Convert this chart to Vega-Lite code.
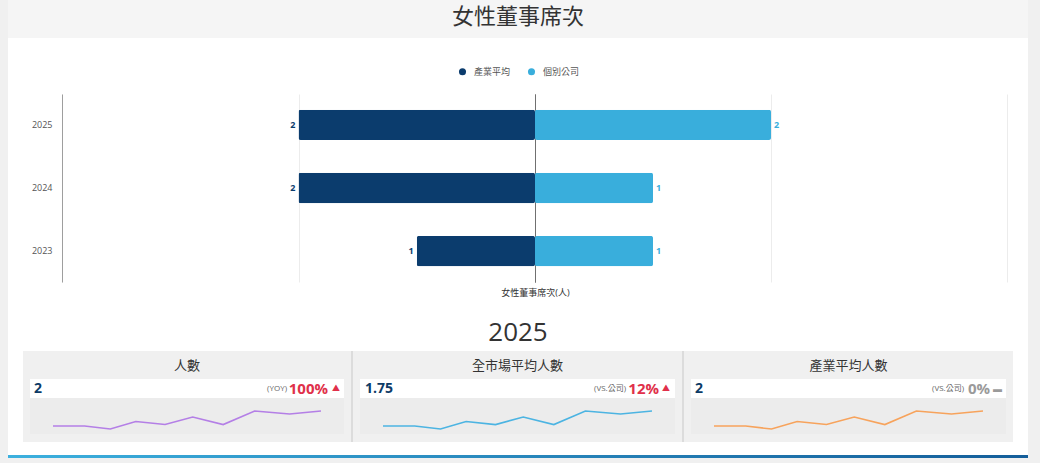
{
  "$schema": "https://vega.github.io/schema/vega-lite/v6.json",
  "background": "#f0f0f0",
  "padding": {"top": 0, "left": 8, "right": 12, "bottom": 5},
  "spacing": 0,
  "resolve": {"scale": {"color": "independent"}},
  "config": {
    "font": "Open Sans, Noto Sans CJK TC",
    "view": {"stroke": null},
    "concat": {"spacing": 0}
  },
  "datasets": {
    "title": [{"title": "女性董事席次"}],
    "bars": [
      {"year": "2025", "group": "產業平均", "count": 2},
      {"year": "2025", "group": "個別公司", "count": 2},
      {"year": "2024", "group": "產業平均", "count": 2},
      {"year": "2024", "group": "個別公司", "count": 1},
      {"year": "2023", "group": "產業平均", "count": 1},
      {"year": "2023", "group": "個別公司", "count": 1}
    ],
    "summary": [{"year": "2025"}],
    "cards": [
      {"card": "人數", "value": "2", "cmp": "(YOY)", "pct": 1.0, "trend": "up", "arrow": "▲"},
      {"card": "全市場平均人數", "value": "1.75", "cmp": "(VS.公司)", "pct": 0.12, "trend": "up", "arrow": "▲"},
      {"card": "產業平均人數", "value": "2", "cmp": "(VS.公司)", "pct": 0, "trend": "flat", "arrow": "▬"}
    ],
    "trend": [
      {"card": "人數", "date": "2016-01-01", "n": 1.0},
      {"card": "人數", "date": "2017-01-22", "n": 1.0},
      {"card": "人數", "date": "2017-12-04", "n": 0.8},
      {"card": "人數", "date": "2018-10-13", "n": 1.3},
      {"card": "人數", "date": "2019-10-07", "n": 1.1},
      {"card": "人數", "date": "2020-09-10", "n": 1.6},
      {"card": "人數", "date": "2021-09-19", "n": 1.1},
      {"card": "人數", "date": "2022-10-10", "n": 2.0},
      {"card": "人數", "date": "2023-12-13", "n": 1.8},
      {"card": "人數", "date": "2025-01-01", "n": 2.0},
      {"card": "全市場平均人數", "date": "2016-01-01", "n": 0.88},
      {"card": "全市場平均人數", "date": "2017-01-22", "n": 0.88},
      {"card": "全市場平均人數", "date": "2017-12-04", "n": 0.7},
      {"card": "全市場平均人數", "date": "2018-10-13", "n": 1.14},
      {"card": "全市場平均人數", "date": "2019-10-07", "n": 0.96},
      {"card": "全市場平均人數", "date": "2020-09-10", "n": 1.4},
      {"card": "全市場平均人數", "date": "2021-09-19", "n": 0.96},
      {"card": "全市場平均人數", "date": "2022-10-10", "n": 1.75},
      {"card": "全市場平均人數", "date": "2023-12-13", "n": 1.58},
      {"card": "全市場平均人數", "date": "2025-01-01", "n": 1.75},
      {"card": "產業平均人數", "date": "2016-01-01", "n": 1.0},
      {"card": "產業平均人數", "date": "2017-01-22", "n": 1.0},
      {"card": "產業平均人數", "date": "2017-12-04", "n": 0.8},
      {"card": "產業平均人數", "date": "2018-10-13", "n": 1.3},
      {"card": "產業平均人數", "date": "2019-10-07", "n": 1.1},
      {"card": "產業平均人數", "date": "2020-09-10", "n": 1.6},
      {"card": "產業平均人數", "date": "2021-09-19", "n": 1.1},
      {"card": "產業平均人數", "date": "2022-10-10", "n": 2.0},
      {"card": "產業平均人數", "date": "2023-12-13", "n": 1.8},
      {"card": "產業平均人數", "date": "2025-01-01", "n": 2.0}
    ],
    "blank": [{}]
  },
  "vconcat": [
    {
      "width": 1020,
      "height": 38,
      "view": {"fill": "#f5f5f5"},
      "data": {"name": "title"},
      "mark": {"type": "text", "fontSize": 22, "color": "#333333", "font": "Noto Sans CJK TC", "dy": -2},
      "encoding": {"text": {"field": "title"}}
    },
    {
      "width": 1020,
      "height": 262,
      "view": {"fill": "white"},
      "data": {"name": "bars"},
      "encoding": {
        "y": {
          "field": "year",
          "type": "ordinal",
          "sort": "descending",
          "scale": {"range": [56, 244], "paddingInner": 0.52, "paddingOuter": 0.25},
          "axis": {
            "title": null,
            "orient": "left",
            "offset": -54,
            "grid": false,
            "ticks": false,
            "tickSize": 0,
            "domainColor": "#9e9e9e",
            "labelPadding": 10,
            "labelFontSize": 9,
            "labelColor": "#555555"
          }
        },
        "color": {
          "field": "group",
          "type": "nominal",
          "scale": {"domain": ["產業平均", "個別公司"], "range": ["#0b3c6d", "#39aedc"]},
          "legend": {
            "title": null,
            "orient": "none",
            "direction": "horizontal",
            "legendX": 450,
            "legendY": 29,
            "padding": 0,
            "symbolType": "circle",
            "symbolSize": 50,
            "symbolStrokeWidth": 0,
            "labelFontSize": 9,
            "labelColor": "#555555",
            "labelOffset": 7,
            "columnPadding": 16
          }
        }
      },
      "layer": [
        {
          "transform": [{"filter": "datum.group === '產業平均'"}],
          "encoding": {
            "x": {
              "field": "count",
              "type": "quantitative",
              "scale": {"domain": [0, 4], "range": [527, 54], "nice": false},
              "axis": {
                "orient": "top",
                "values": [0, 2, 4],
                "grid": true,
                "gridColor": {"condition": {"test": "datum.value === 0", "value": "#707070"}, "value": "#ececec"},
                "domain": false,
                "ticks": false,
                "labels": false,
                "title": null
              }
            }
          },
          "layer": [
            {"mark": {"type": "bar", "cornerRadius": 2}},
            {
              "mark": {"type": "text", "align": "right", "dx": -3, "fontSize": 9, "fontWeight": "bold"},
              "encoding": {"text": {"field": "count", "type": "quantitative"}}
            }
          ]
        },
        {
          "transform": [{"filter": "datum.group === '個別公司'"}],
          "encoding": {
            "x": {
              "field": "count",
              "type": "quantitative",
              "scale": {"domain": [0, 4], "range": [527, 999], "nice": false},
              "axis": {
                "orient": "top",
                "values": [0, 2, 4],
                "grid": true,
                "gridColor": {"condition": {"test": "datum.value === 0", "value": "#707070"}, "value": "#ececec"},
                "domain": false,
                "ticks": false,
                "labels": false,
                "title": "女性董事席次(人)",
                "titleX": 527,
                "titleY": 254,
                "titleAlign": "center",
                "titleBaseline": "middle",
                "titleFontSize": 9,
                "titleFontWeight": "normal",
                "titleColor": "#333333"
              }
            }
          },
          "layer": [
            {"mark": {"type": "bar", "cornerRadius": 2}},
            {
              "mark": {"type": "text", "align": "left", "dx": 3, "fontSize": 9, "fontWeight": "bold"},
              "encoding": {"text": {"field": "count", "type": "quantitative"}}
            }
          ]
        }
      ],
      "resolve": {"scale": {"x": "independent"}, "axis": {"x": "independent"}}
    },
    {
      "width": 1020,
      "height": 51,
      "view": {"fill": "white"},
      "data": {"name": "summary"},
      "mark": {"type": "text", "fontSize": 26, "color": "#333333", "dy": 7},
      "encoding": {"text": {"field": "year"}}
    },
    {
      "hconcat": [
        {"width": 15, "height": 91, "data": {"name": "blank"}, "mark": {"type": "rect", "color": "white"}, "encoding": {}},
        {
          "vconcat": [
            {
              "width": 328, "height": 28,
              "data": {"name": "cards"},
              "transform": [{"filter": "datum.card === '人數'"}],
              "mark": {"type": "text", "fontSize": 13, "color": "#333333", "dy": 1},
              "encoding": {"text": {"field": "card"}}
            },
            {
              "width": 314, "height": 19,
              "view": {"fill": "white"},
              "data": {"name": "cards"},
              "transform": [{"filter": "datum.card === '人數'"}],
              "layer": [
                {"mark": {"type": "text", "x": 0, "align": "left", "dx": 4, "fontSize": 14, "fontWeight": "bold", "color": "#0d3b66"}, "encoding": {"text": {"field": "value"}}},
                {"mark": {"type": "text", "x": "width", "align": "right", "dx": -57, "fontSize": 8, "color": "#666666"}, "encoding": {"text": {"field": "cmp"}}},
                {
                  "mark": {"type": "text", "x": "width", "align": "right", "dx": -16, "fontSize": 15, "fontWeight": "bold"},
                  "encoding": {
                    "text": {"field": "pct", "type": "quantitative", "format": ".0%"},
                    "color": {"field": "trend", "type": "nominal", "scale": {"domain": ["up", "flat"], "range": ["#e0304a", "#9a9a9a"]}, "legend": null}
                  }
                },
                {
                  "mark": {"type": "text", "x": "width", "align": "right", "dx": -4, "fontSize": 8},
                  "encoding": {
                    "text": {"field": "arrow"},
                    "color": {"field": "trend", "type": "nominal", "scale": {"domain": ["up", "flat"], "range": ["#e0304a", "#9a9a9a"]}, "legend": null}
                  }
                }
              ]
            },
            {
              "width": 314, "height": 36,
              "view": {"fill": "#ececec"},
              "data": {"name": "trend"},
              "transform": [{"filter": "datum.card === '人數'"}],
              "mark": {"type": "line", "strokeWidth": 1.6, "color": "#b47fe6"},
              "encoding": {
                "x": {"field": "date", "type": "temporal", "scale": {"nice": false, "padding": 23}, "axis": null},
                "y": {"field": "n", "type": "quantitative", "scale": {"domain": [0.47, 2.87], "zero": false, "nice": false}, "axis": null}
              }
            }
          ],
          "center": true,
          "spacing": 0
        },
        {"width": 2, "height": 91, "data": {"name": "blank"}, "mark": {"type": "rect", "color": "#dcdcdc"}, "encoding": {}},
        {
          "vconcat": [
            {
              "width": 329, "height": 28,
              "data": {"name": "cards"},
              "transform": [{"filter": "datum.card === '全市場平均人數'"}],
              "mark": {"type": "text", "fontSize": 13, "color": "#333333", "dy": 1},
              "encoding": {"text": {"field": "card"}}
            },
            {
              "width": 315, "height": 19,
              "view": {"fill": "white"},
              "data": {"name": "cards"},
              "transform": [{"filter": "datum.card === '全市場平均人數'"}],
              "layer": [
                {"mark": {"type": "text", "x": 0, "align": "left", "dx": 5, "fontSize": 14, "fontWeight": "bold", "color": "#0d3b66"}, "encoding": {"text": {"field": "value"}}},
                {"mark": {"type": "text", "x": "width", "align": "right", "dx": -49, "fontSize": 8, "color": "#666666"}, "encoding": {"text": {"field": "cmp"}}},
                {
                  "mark": {"type": "text", "x": "width", "align": "right", "dx": -16, "fontSize": 15, "fontWeight": "bold"},
                  "encoding": {
                    "text": {"field": "pct", "type": "quantitative", "format": ".0%"},
                    "color": {"field": "trend", "type": "nominal", "scale": {"domain": ["up", "flat"], "range": ["#e0304a", "#9a9a9a"]}, "legend": null}
                  }
                },
                {
                  "mark": {"type": "text", "x": "width", "align": "right", "dx": -5, "fontSize": 8},
                  "encoding": {
                    "text": {"field": "arrow"},
                    "color": {"field": "trend", "type": "nominal", "scale": {"domain": ["up", "flat"], "range": ["#e0304a", "#9a9a9a"]}, "legend": null}
                  }
                }
              ]
            },
            {
              "width": 315, "height": 36,
              "view": {"fill": "#ececec"},
              "data": {"name": "trend"},
              "transform": [{"filter": "datum.card === '全市場平均人數'"}],
              "mark": {"type": "line", "strokeWidth": 1.6, "color": "#4cb4e2"},
              "encoding": {
                "x": {"field": "date", "type": "temporal", "scale": {"nice": false, "padding": 23}, "axis": null},
                "y": {"field": "n", "type": "quantitative", "scale": {"domain": [0.41, 2.51], "zero": false, "nice": false}, "axis": null}
              }
            }
          ],
          "center": true,
          "spacing": 0
        },
        {"width": 2, "height": 91, "data": {"name": "blank"}, "mark": {"type": "rect", "color": "#dcdcdc"}, "encoding": {}},
        {
          "vconcat": [
            {
              "width": 329, "height": 28,
              "data": {"name": "cards"},
              "transform": [{"filter": "datum.card === '產業平均人數'"}],
              "mark": {"type": "text", "fontSize": 13, "color": "#333333", "dy": 1},
              "encoding": {"text": {"field": "card"}}
            },
            {
              "width": 315, "height": 19,
              "view": {"fill": "white"},
              "data": {"name": "cards"},
              "transform": [{"filter": "datum.card === '產業平均人數'"}],
              "layer": [
                {"mark": {"type": "text", "x": 0, "align": "left", "dx": 4, "fontSize": 14, "fontWeight": "bold", "color": "#0d3b66"}, "encoding": {"text": {"field": "value"}}},
                {"mark": {"type": "text", "x": "width", "align": "right", "dx": -42, "fontSize": 8, "color": "#666666"}, "encoding": {"text": {"field": "cmp"}}},
                {
                  "mark": {"type": "text", "x": "width", "align": "right", "dx": -16, "fontSize": 15, "fontWeight": "bold"},
                  "encoding": {
                    "text": {"field": "pct", "type": "quantitative", "format": ".0%"},
                    "color": {"field": "trend", "type": "nominal", "scale": {"domain": ["up", "flat"], "range": ["#e0304a", "#9a9a9a"]}, "legend": null}
                  }
                },
                {
                  "mark": {"type": "text", "x": "width", "align": "right", "dx": -4, "fontSize": 9},
                  "encoding": {
                    "text": {"field": "arrow"},
                    "color": {"field": "trend", "type": "nominal", "scale": {"domain": ["up", "flat"], "range": ["#e0304a", "#9a9a9a"]}, "legend": null}
                  }
                }
              ]
            },
            {
              "width": 315, "height": 36,
              "view": {"fill": "#ececec"},
              "data": {"name": "trend"},
              "transform": [{"filter": "datum.card === '產業平均人數'"}],
              "mark": {"type": "line", "strokeWidth": 1.6, "color": "#f7a35c"},
              "encoding": {
                "x": {"field": "date", "type": "temporal", "scale": {"nice": false, "padding": 23}, "axis": null},
                "y": {"field": "n", "type": "quantitative", "scale": {"domain": [0.47, 2.87], "zero": false, "nice": false}, "axis": null}
              }
            }
          ],
          "center": true,
          "spacing": 0
        },
        {"width": 15, "height": 91, "data": {"name": "blank"}, "mark": {"type": "rect", "color": "white"}, "encoding": {}}
      ],
      "spacing": 0
    },
    {
      "width": 1020,
      "height": 13,
      "data": {"name": "blank"},
      "mark": {"type": "rect", "color": "white"},
      "encoding": {}
    },
    {
      "width": 1020,
      "height": 3,
      "data": {"name": "blank"},
      "mark": {
        "type": "rect",
        "color": {
          "gradient": "linear",
          "x1": 0, "x2": 1, "y1": 0, "y2": 0,
          "stops": [{"offset": 0, "color": "#3cb0de"}, {"offset": 1, "color": "#145e9a"}]
        }
      },
      "encoding": {}
    }
  ]
}
